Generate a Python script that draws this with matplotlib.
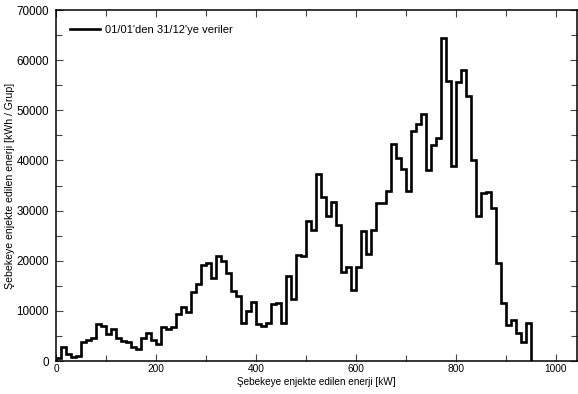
import numpy as np
import matplotlib
matplotlib.use('Agg')
import matplotlib.pyplot as plt
from matplotlib.ticker import MultipleLocator

plt.rcParams['font.family'] = ['Liberation Sans', 'DejaVu Sans']

# histogram of injected energy, 10 kW bins starting at 0
bin_width = 10
energy = [
    530, 2730, 1330, 870, 1000, 3730, 4200, 4600, 7400, 7000,
    5400, 6400, 4670, 4070, 3730, 2870, 2400, 4500, 5600, 4200,
    3450, 6700, 6300, 6870, 9300, 10700, 9850, 13700, 15300, 19150,
    19550, 16600, 21000, 19850, 17550, 13870, 12900, 7600, 10000, 11700,
    7400, 7000, 7530, 11400, 11650, 7650, 16870, 12380, 21200, 20900,
    27870, 26200, 37330, 32700, 28870, 31670, 27100, 17800, 18800, 14200,
    18730, 25870, 21250, 26070, 31600, 31600, 34000, 43300, 40400, 38250,
    33870, 45800, 47200, 49300, 38070, 43100, 44400, 64500, 55800, 38950,
    55600, 57950, 52870, 40100, 28870, 33500, 33800, 30530, 19450, 11530,
    7200, 8200, 5530, 3770, 7530,
]
edges = np.arange(len(energy) + 1) * bin_width

legend_label = "01/01'den 31/12'ye veriler"
x_label = "Şebekeye enjekte edilen enerji [kW]"
y_label = "Şebekeye enjekte edilen enerji [kWh / Grup]"

fig = plt.figure(figsize=(5.78, 3.94), dpi=100)
ax = fig.add_axes([56 / 578, 33 / 394, 521 / 578, 351 / 394])

ax.stairs(energy, edges, baseline=0, color='black', linewidth=1.9, label=legend_label)

ax.set_xlim(0, 1042)
ax.set_ylim(0, 70000)
ax.xaxis.set_major_locator(MultipleLocator(200))
ax.xaxis.set_minor_locator(MultipleLocator(100))
ax.yaxis.set_major_locator(MultipleLocator(10000))
ax.yaxis.set_minor_locator(MultipleLocator(5000))
ax.tick_params(which='both', direction='in', top=True, right=True,
               width=0.8, color='#444444')
ax.tick_params(axis='x', labelsize=7.3, pad=2.5)
ax.tick_params(axis='y', labelsize=8.4, pad=5)
ax.tick_params(which='major', length=5)
ax.tick_params(which='minor', length=4)
for sp in ax.spines.values():
    sp.set_linewidth(1.1)

ax.set_xlabel(x_label, fontsize=7.2, labelpad=1.5)
ax.set_ylabel(y_label, fontsize=7.6, labelpad=1)

leg = ax.legend(loc='upper left', frameon=False, fontsize=8,
                handlelength=2.7, handletextpad=0.5,
                borderaxespad=0, bbox_to_anchor=(0.018, 0.969))

fig.savefig('out.png', dpi=100, facecolor='white')
